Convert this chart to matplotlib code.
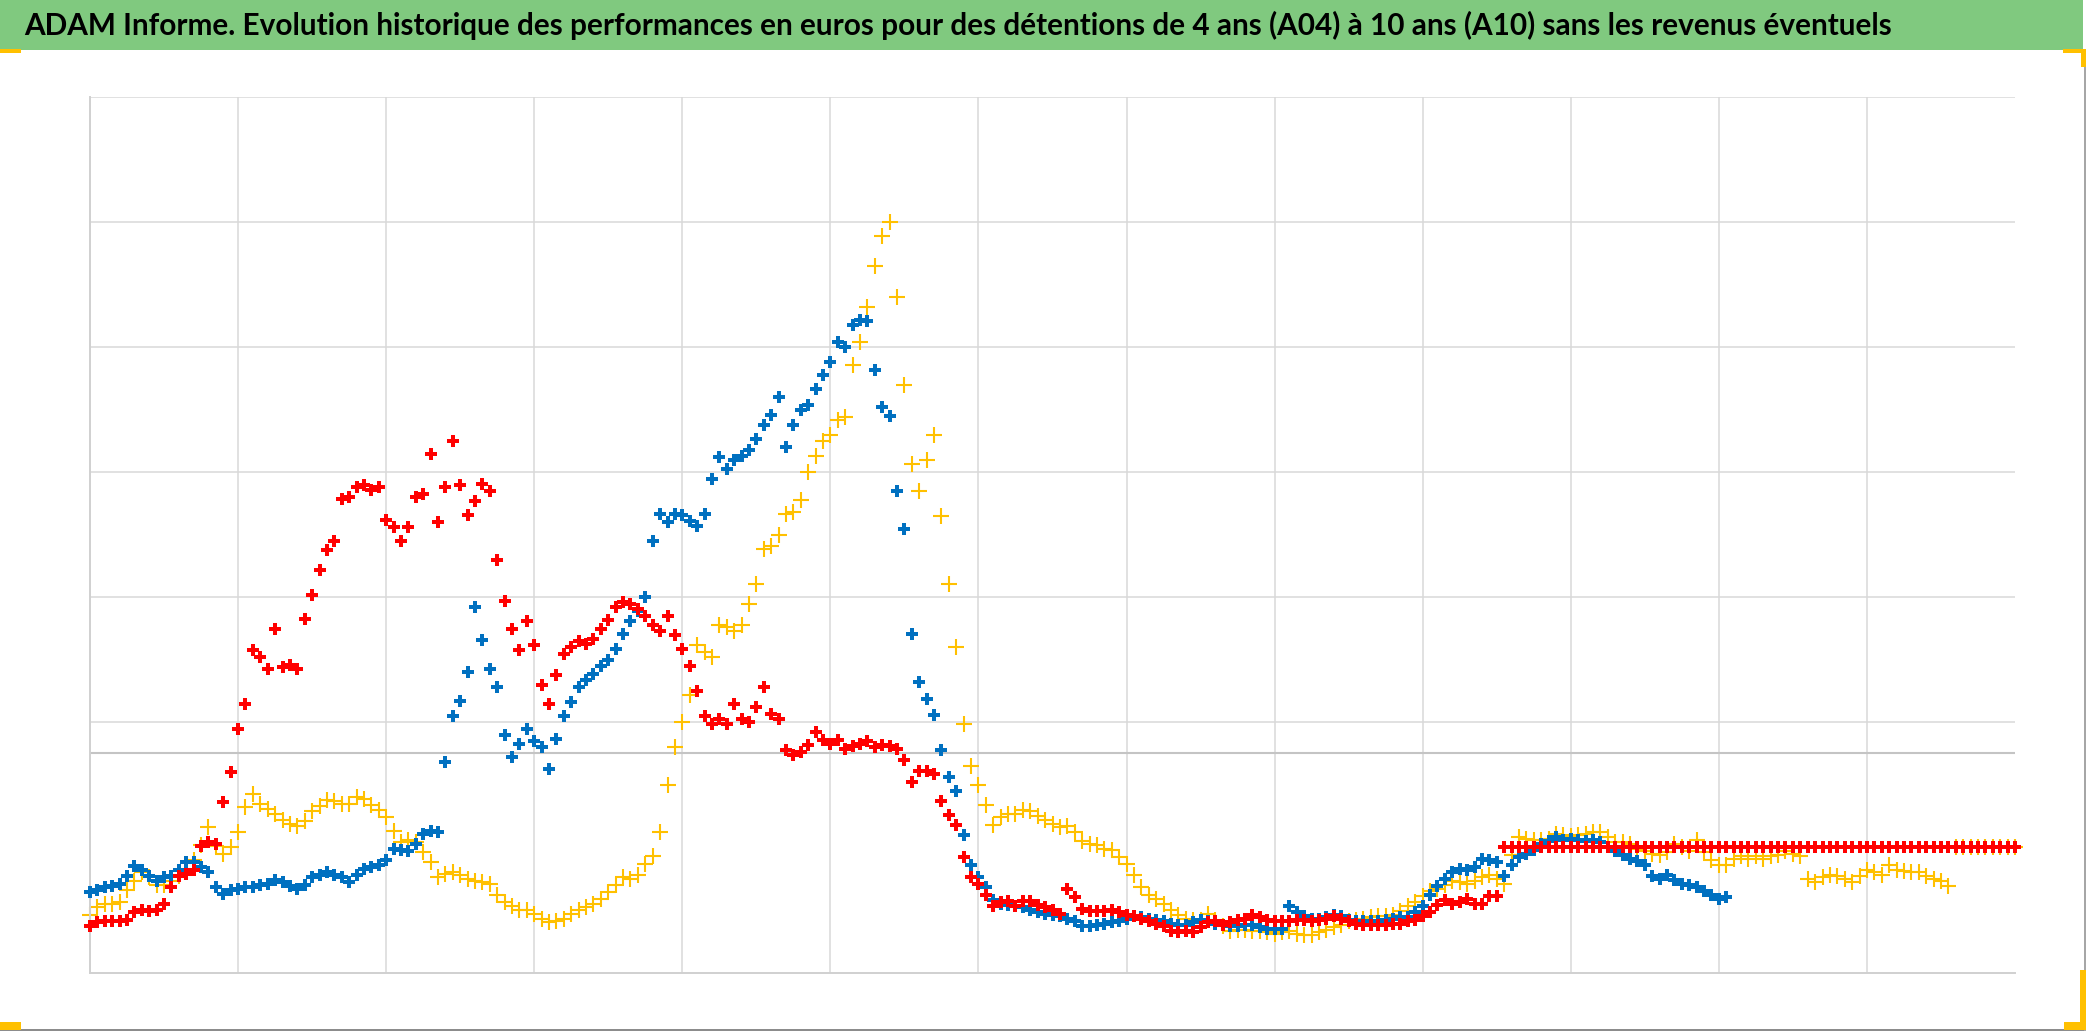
import numpy as np
import matplotlib
matplotlib.use('Agg')
import matplotlib.pyplot as plt
from matplotlib import font_manager
from matplotlib.patches import Rectangle

TITLE = ("ADAM Informe. Evolution historique des performances en euros pour des "
         "détentions de 4 ans (A04) à 10 ans (A10) sans les revenus éventuels")

# samples every 0.1 year, gridline every 2 years
STEP = 0.1
N_TOTAL = 261
FLAT = 100  # value once the holding period is not complete yet

# A04 (yellow)
a04 = [46, 52, 55, 55, 56, 66, 73, 80, 76, 70,
       70, 73, 77, 80, 90, 102, 116, 101, 95, 100,
       112, 132, 143, 135, 131, 127, 122, 119, 117, 121,
       129, 133, 138, 137, 135, 135, 140, 139, 134, 130,
       124, 113, 104, 106, 104, 96, 88, 76, 79, 80,
       78, 75, 73, 72, 71, 62, 56, 53, 50, 50,
       47, 43, 40, 41, 43, 47, 50, 52, 55, 59,
       64, 70, 76, 75, 78, 87, 93, 112, 150, 180,
       200, 222, 262, 256, 252, 278, 276, 273, 278, 295,
       311, 339, 341, 350, 367, 368, 378, 400, 413, 425,
       430, 442, 444, 486, 504, 532, 565, 589, 600, 540,
       470, 407, 385, 410, 430, 365, 311, 260, 199, 165,
       150, 134, 118, 124, 127, 127, 130, 129, 125, 122,
       119, 116, 117, 112, 105, 103, 102, 99, 98, 92,
       87, 78, 68, 62, 59, 55, 50, 46, 43, 42,
       42, 47, 42, 37, 33, 34, 34, 33, 33, 32,
       31, 32, 33, 31, 30, 30, 32, 34, 36, 38,
       41, 42, 43, 44, 45, 45, 46, 49, 53, 56,
       61, 65, 67, 70, 73, 72, 71, 73, 76, 78,
       75, 71, 94, 108, 107, 106, 106, 107, 111, 110,
       109, 110, 111, 112, 112, 108, 104, 104, 103, 99,
       97, 95, 94, 96, 103, 100, 97, 106, 96, 90,
       86, 86, 91, 93, 91, 93, 91, 93, 94, 97,
       95, 93, 75, 72, 76, 78, 77, 75, 72, 77,
       82, 80, 78, 86, 82, 81, 80, 80, 77, 75,
       73, 69]

# A07 (blue)
a07 = [64, 66, 68, 69, 71, 77, 85, 82, 77, 73,
       76, 77, 82, 88, 88, 84, 80, 68, 63, 66,
       67, 68, 68, 70, 71, 74, 72, 69, 67, 70,
       76, 78, 80, 78, 76, 72, 78, 83, 84, 86,
       90, 99, 98, 97, 103, 111, 113, 112, 168, 205,
       217, 240, 292, 266, 243, 228, 190, 172, 183, 195,
       185, 180, 163, 187, 205, 216, 228, 234, 239, 245,
       250, 259, 271, 281, 289, 300, 345, 367, 360, 367,
       366, 361, 357, 367, 395, 412, 403, 410, 413, 418,
       427, 438, 446, 460, 420, 438, 450, 454, 467, 478,
       488, 504, 500, 518, 522, 521, 482, 452, 445, 385,
       355, 271, 232, 219, 206, 178, 156, 145, 110, 86,
       76, 68, 58, 55, 54, 53, 52, 50, 48, 47,
       46, 45, 43, 41, 37, 37, 38, 39, 40, 41,
       43, 45, 44, 43, 42, 41, 39, 38, 38, 40,
       42, 41, 39, 38, 37, 37, 38, 38, 36, 35,
       35, 35, 53, 48, 45, 43, 43, 44, 46, 45,
       42, 41, 41, 41, 41, 42, 43, 44, 44, 48,
       53, 62, 69, 75, 80, 83, 82, 84, 91, 90,
       88, 77, 86, 92, 95, 98, 103, 105, 108, 106,
       107, 106, 105, 106, 104, 100, 97, 94, 91, 89,
       86, 77, 75, 78, 74, 71, 70, 68, 65, 62,
       59, 60]

# A10 (red)
a10 = [37, 40, 41, 41, 41, 42, 48, 50, 49, 50,
       55, 68, 77, 79, 82, 101, 104, 103, 136, 160,
       195, 215, 258, 252, 243, 275, 244, 246, 243, 283,
       302, 322, 338, 345, 379, 380, 388, 390, 386, 388,
       362, 356, 345, 356, 380, 383, 415, 360, 388, 425,
       390, 366, 377, 391, 385, 330, 297, 275, 258, 281,
       262, 230, 215, 238, 255, 260, 265, 263, 267, 275,
       282, 292, 296, 295, 291, 285, 278, 273, 285, 270,
       259, 245, 225, 205, 199, 203, 199, 215, 203, 200,
       212, 228, 207, 203, 178, 174, 176, 182, 192, 186,
       183, 186, 179, 181, 183, 185, 180, 182, 181, 179,
       170, 152, 161, 161, 159, 137, 126, 118, 92, 76,
       71, 62, 53, 56, 57, 53, 57, 57, 54, 52,
       50, 47, 67, 60, 51, 49, 49, 49, 50, 48,
       46, 45, 43, 41, 39, 37, 33, 32, 33, 32,
       36, 40, 41, 38, 40, 42, 43, 46, 44, 42,
       41, 41, 41, 42, 42, 41, 42, 43, 45, 43,
       41, 39, 38, 38, 38, 38, 39, 39, 41, 42,
       45, 48, 54, 58, 55, 56, 59, 55, 55, 61,
       61]

W, H = 2086, 1031
fig = plt.figure(figsize=(W / 100, H / 100), dpi=100)
fig.patch.set_facecolor('white')


def px_rect(x0, y0, x1, y1, color):
    # rectangle given in pixels from the top-left corner of the figure
    fig.patches.append(Rectangle((x0 / W, 1 - y1 / H), (x1 - x0) / W, (y1 - y0) / H,
                                 transform=fig.transFigure, facecolor=color,
                                 edgecolor='none', zorder=0))


# plot area
ax = fig.add_axes([90 / W, 1 - 972.5 / H, 1925 / W, 875.2 / H])
ax.set_xlim(0, 26)
ax.set_ylim(0, 700)
ax.set_xticks([])
ax.set_yticks([])
for side in ['top', 'right']:
    ax.spines[side].set_visible(False)
for side in ['left', 'bottom']:
    ax.spines[side].set_color('#D0D0D0')
    ax.spines[side].set_linewidth(1.4)

grid_kw = dict(color='#D9D9D9', linewidth=1.1, zorder=0.5)
for yv in range(200, 701, 100):
    ax.axhline(yv, **grid_kw)
for xv in range(2, 26, 2):
    ax.axvline(xv, **grid_kw)
# horizontal axis crossing
ax.axhline(175.5, color='#C4C4C4', linewidth=1.5, zorder=0.6)


def full_series(vals):
    vals = list(vals) + [FLAT] * (N_TOTAL - len(vals))
    return np.arange(len(vals)) * STEP, np.array(vals, dtype=float)


x, y = full_series(a04)
ax.plot(x, y, linestyle='none', marker='+', markersize=11, markeredgewidth=1.5,
        color='#FFC000', zorder=2, clip_on=False)
x, y = full_series(a07)
ax.plot(x, y, linestyle='none', marker='P', markersize=9, markeredgewidth=0,
        color='#0070C0', zorder=3, clip_on=False)
x, y = full_series(a10)
ax.plot(x, y, linestyle='none', marker='P', markersize=9, markeredgewidth=0,
        color='#FF0000', zorder=4, clip_on=False)

# title band
px_rect(0, 0, 2083, 50, '#80C97F')
names = {f.name for f in font_manager.fontManager.ttflist}
title_font = 'DejaVu Sans'
for cand in ['Liberation Sans Narrow', 'Lato', 'Roboto']:
    if cand in names:
        title_font = cand
        break
t = fig.text(24 / W, 1 - 25 / H, TITLE, ha='left', va='center', fontsize=20,
             fontweight='bold', family=title_font, color='black')
renderer = fig.canvas.get_renderer()
wpx = t.get_window_extent(renderer).width
t.set_fontsize(20 * 1869 / wpx)

# excel selection handles and chart border
px_rect(0, 1029, W, 1031, '#8C8C8C')
px_rect(2084, 50, W, 1031, '#A6A6A6')
px_rect(0, 49, 21, 53, '#FFC000')
px_rect(2063, 49, W, 53, '#FFC000')
px_rect(2081, 49, W, 67, '#FFC000')
px_rect(0, 1022, 21, 1030, '#FFC000')
px_rect(2064, 1022, W, 1030, '#FFC000')
px_rect(2080, 970, W, 1030, '#FFC000')

fig.savefig('out.png', dpi=100)
